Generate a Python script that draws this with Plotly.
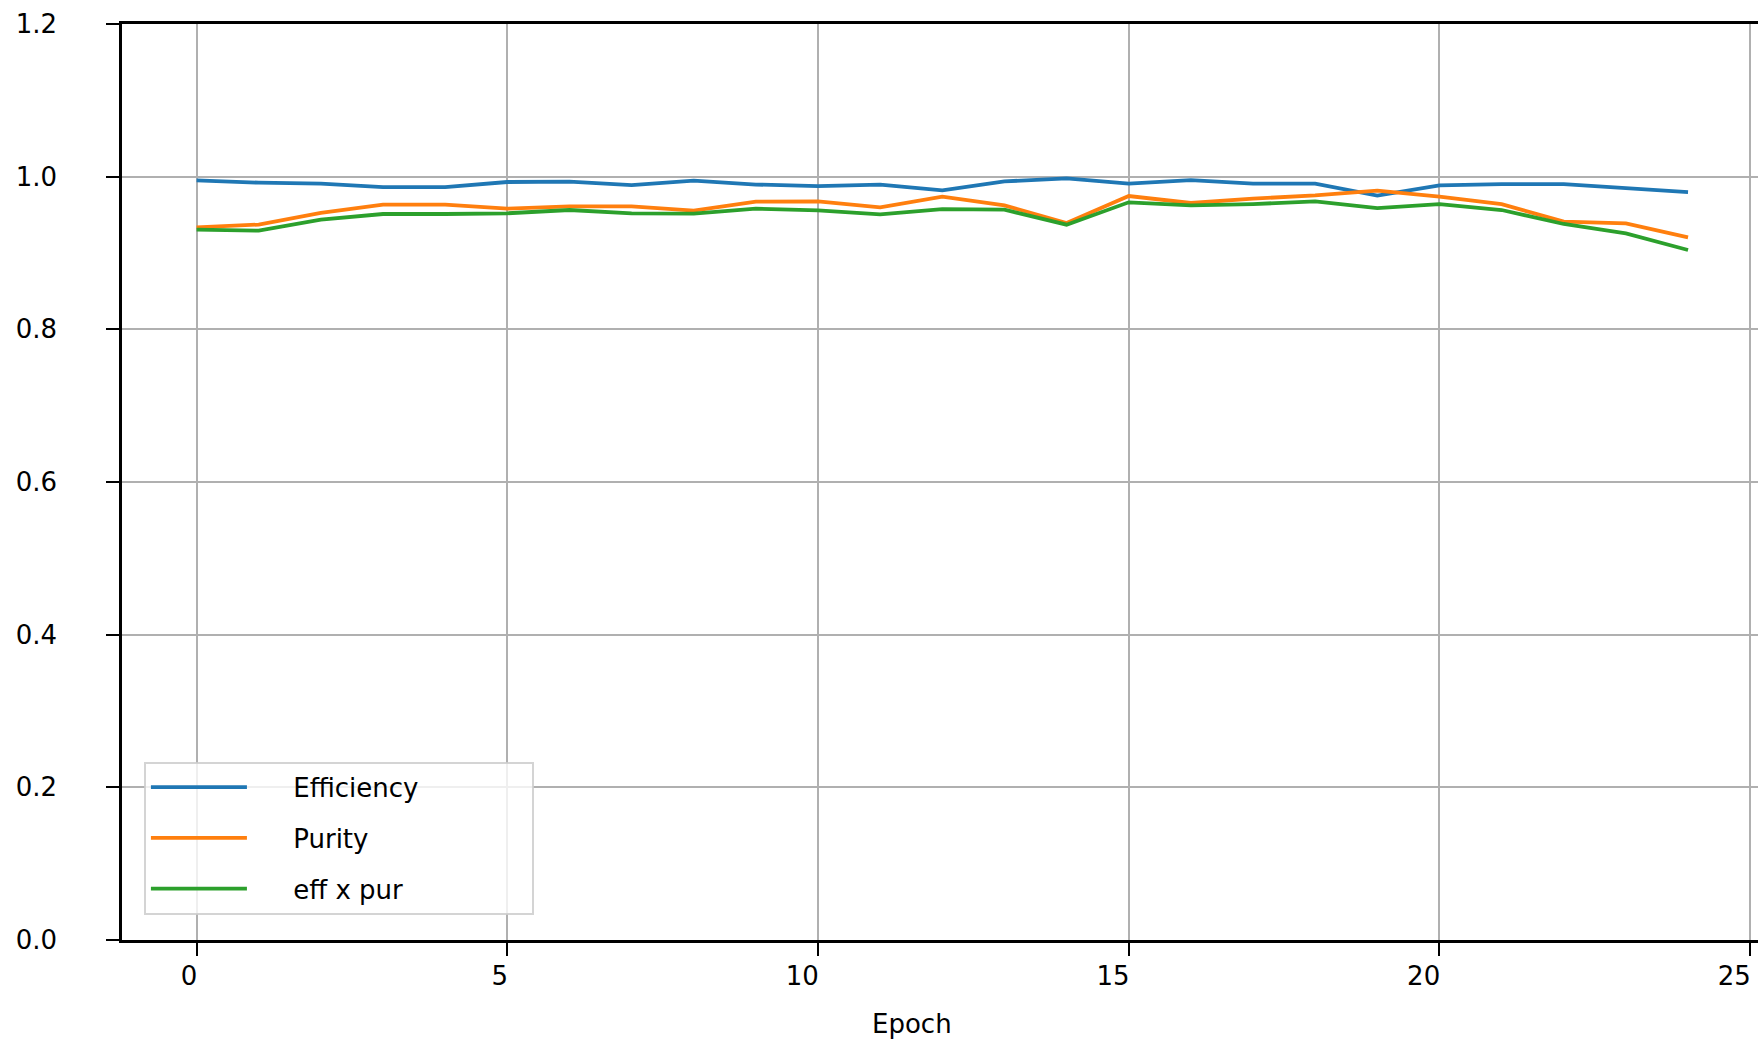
import plotly.graph_objects as go

epochs = list(range(25))
efficiency = [0.9951, 0.9921, 0.9908, 0.9864, 0.9864, 0.9930, 0.9934, 0.9890, 0.9947, 0.9897,
              0.9877, 0.9895, 0.9820, 0.9938, 0.9977, 0.9908, 0.9955, 0.9910, 0.9908, 0.9752,
              0.9886, 0.9903, 0.9903, 0.9851, 0.9798]
purity = [0.9336, 0.9372, 0.9525, 0.9633, 0.9633, 0.9581, 0.9611, 0.9611, 0.9555, 0.9672,
          0.9676, 0.9598, 0.9738, 0.9624, 0.9393, 0.9746, 0.9655, 0.9712, 0.9755, 0.9816,
          0.9738, 0.9641, 0.9411, 0.9389, 0.9205]
eff_x_pur = [0.9306, 0.9293, 0.9437, 0.9511, 0.9511, 0.9520, 0.9563, 0.9520, 0.9516, 0.9580,
             0.9559, 0.9507, 0.9576, 0.9568, 0.9371, 0.9664, 0.9624, 0.9641, 0.9676, 0.9589,
             0.9641, 0.9563, 0.9380, 0.9258, 0.9039]
series_names = ["Efficiency", "Purity", "eff x pur"]
colors = ["#1f77b4", "#ff7f0e", "#2ca02c"]
x_ticks = [0, 5, 10, 15, 20, 25]
y_ticks = [0.0, 0.2, 0.4, 0.6, 0.8, 1.0, 1.2]

W, H = 1758, 1042
L, T, B, R = 121.6, 23.5, 102.4, 0

NB = "\u00a0"
fig = go.Figure()
for i, (name, ys) in enumerate(zip(series_names, [efficiency, purity, eff_x_pur])):
    fig.add_trace(go.Scatter(x=epochs, y=ys, mode="lines",
                             name=NB * 5 + name + NB * 13,
                             line=dict(color=colors[i], width=3.8),
                             legendgroup=f"g{i}"))

font = dict(family="DejaVu Sans", size=26, color="black")
fig.update_layout(
    width=W, height=H, autosize=False,
    margin=dict(l=L, r=R, t=T, b=B, pad=0),
    plot_bgcolor="white", paper_bgcolor="white",
    font=font,
    showlegend=True,
    legend=dict(x=0.0134, y=0.1947, xanchor="left", yanchor="top",
                bgcolor="rgba(255,255,255,0.8)", bordercolor="rgba(205,205,205,0.85)",
                borderwidth=2, font=font, itemwidth=96,
                traceorder="grouped", tracegroupgap=14),
    xaxis=dict(range=[-1.2, 25.126], tickmode="array", tickvals=x_ticks,
               ticktext=[str(v) for v in x_ticks],
               showgrid=True, gridcolor="#b0b0b0", gridwidth=2,
               zeroline=False, showline=True, linecolor="black", linewidth=2.5,
               mirror=True, ticks="outside", ticklen=13, tickwidth=2, tickcolor="black",
               ticklabelposition="outside left", ticklabelstandoff=11, ticklabelshift=3,
               tickfont=font),
    yaxis=dict(range=[0, 1.2], tickmode="array", tickvals=y_ticks,
               ticktext=[f"{v:.1f}" for v in y_ticks],
               showgrid=True, gridcolor="#b0b0b0", gridwidth=2,
               zeroline=False, showline=True, linecolor="black", linewidth=2.5,
               mirror=False, ticks="outside", ticklen=13, tickwidth=2, tickcolor="black",
               ticklabelstandoff=44, tickfont=font),
    annotations=[dict(text="Epoch", xref="paper", yref="paper", x=0.483, y=-0.092,
                      xanchor="center", yanchor="middle", showarrow=False, font=font)],
)

fig.write_html("out.html")
